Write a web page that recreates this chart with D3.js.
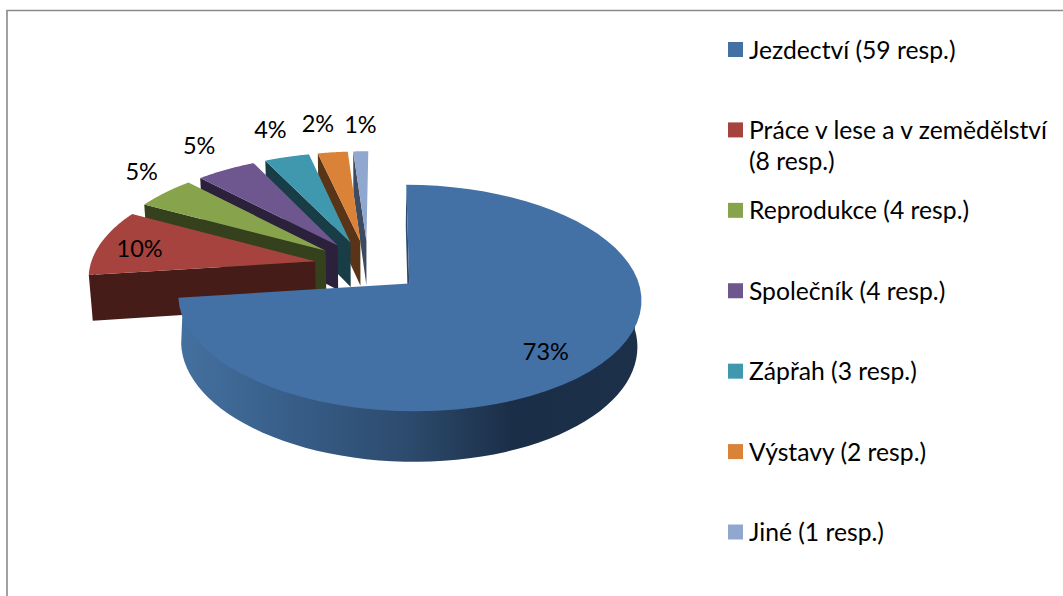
<!doctype html>
<html lang="cs">
<head>
  <meta charset="utf-8">
  <style>
    html, body { margin: 0; padding: 0; background: #fff; }
    svg { display: block; }
    text { font-family: Lato, "Open Sans", sans-serif; fill: #000; }
    .legend-label { font-size: 24.7px; }
    .pct-label { font-size: 23.5px; text-anchor: middle; }
  </style>
  <script src="https://d3js.org/d3.v7.min.js"></script>
</head>
<body>
  <script>
    const categories = ["Jezdectví", "Práce v lese a v zemědělství", "Reprodukce", "Společník", "Zápřah", "Výstavy", "Jiné"];
    const respondents = [59, 8, 4, 4, 3, 2, 1];
    const legendLines = [
      ["Jezdectví (59 resp.)"],
      ["Práce v lese a v zemědělství", "(8 resp.)"],
      ["Reprodukce (4 resp.)"],
      ["Společník (4 resp.)"],
      ["Zápřah (3 resp.)"],
      ["Výstavy (2 resp.)"],
      ["Jiné (1 resp.)"]
    ];
    const topColors = ["#4371a6", "#a6433f", "#87a34c", "#6e568f", "#3f98ae", "#da8238", "#90a7d0"];
    const wallColors = ["#2c4a6c", "#451c18", "#35401c", "#2c213b", "#193d47", "#5a3417", "#3d4a60"];

    // label placement, radius from slice centre and turn from its bisector
    const labelRadius = [0.78, 0.81, 1.27, 1.34, 1.37, 1.38, 1.35];
    const labelTurn = [4.7, -1.7, 5, 1.7, 0.9, -1.3, 0.3];

    const W = 1063, H = 596;
    const svg = d3.select("body").append("svg").attr("width", W).attr("height", H);

    // frame
    svg.append("path").attr("d", `M7,${H}V10.5H${W}`).attr("fill", "none").attr("stroke", "#8a8a8a").attr("stroke-width", 1.6);

    // perspective pie plane
    const cx = 368, cy = 266, rx = 225, ry = 107;
    const persp = 0.126, depth = 46, depthScale = 0.0145, explode = 0.24;
    const firstAngle = 0.5 * Math.PI / 180;

    function project(u, v, low) {
      const d = 1 + persp * v + (low ? depthScale : 0);
      return [cx + rx * u / d, cy + (-ry * v + (low ? depth : 0)) / d];
    }

    const pie = d3.pie().sort(null).startAngle(firstAngle).endAngle(firstAngle + 2 * Math.PI);
    const arcs = pie(respondents).map((a, i) => {
      const mid = (a.startAngle + a.endAngle) / 2;
      return {
        i, start: a.startAngle, end: a.endAngle, mid,
        ou: explode * Math.sin(mid), ov: explode * Math.cos(mid)
      };
    });

    const line = d3.line();
    const at = (s, r, ang, low) => project(s.ou + r * Math.sin(ang), s.ov + r * Math.cos(ang), low);
    const sweep = (a0, a1) => d3.range(0, 61).map(k => a0 + (a1 - a0) * k / 60);

    const defs = svg.append("defs");
    const grad = defs.append("linearGradient").attr("id", "mainWall")
      .attr("gradientUnits", "userSpaceOnUse")
      .attr("x1", 182).attr("x2", 641).attr("y1", 0).attr("y2", 0);
    grad.selectAll("stop")
      .data([[0, "#44709f"], [0.25, "#375d87"], [0.5, "#2c4a6c"], [0.72, "#1b2e47"], [1, "#1c3049"]])
      .enter().append("stop")
      .attr("offset", d => d[0]).attr("stop-color", d => d[1]);

    // back slices first, the big one last
    const order = arcs.slice().reverse();
    const slices = svg.selectAll("g.slice").data(order).enter().append("g").attr("class", "slice");

    // wall under the first radial edge
    slices.append("path")
      .attr("d", s => line([at(s, 1, s.start), at(s, 1, s.start, true), at(s, 0, s.start, true), at(s, 0, s.start)]) + "Z")
      .attr("fill", s => wallColors[s.i]);

    // outer wall, only where the rim faces the viewer, tucked a little under the top face
    slices.filter(s => Math.cos(s.start) < 0 || Math.cos(s.end) < 0).append("path")
      .attr("d", s => {
        const a0 = Math.max(s.start, Math.PI / 2), a1 = Math.min(s.end, 3 * Math.PI / 2);
        const pts = sweep(a0, a1);
        return line(pts.map(a => at(s, 0.98, a)).concat(pts.slice().reverse().map(a => at(s, 1, a, true)))) + "Z";
      })
      .attr("fill", s => s.i === 0 ? "url(#mainWall)" : wallColors[s.i]);

    // top face
    slices.append("path")
      .attr("d", s => line([at(s, 0, s.start)].concat(sweep(s.start, s.end).map(a => at(s, 1, a)))) + "Z")
      .attr("fill", s => topColors[s.i]);

    // percentages
    const total = d3.sum(respondents);
    const pct = d3.format(".0%");
    svg.selectAll("text.pct-label").data(arcs).enter().append("text")
      .attr("class", "pct-label")
      .attr("x", s => at(s, labelRadius[s.i], s.mid + labelTurn[s.i] * Math.PI / 180)[0])
      .attr("y", s => at(s, labelRadius[s.i], s.mid + labelTurn[s.i] * Math.PI / 180)[1] + 8.5)
      .text(s => pct(respondents[s.i] / total));

    // legend
    const legendY = d3.scalePoint().domain(categories).range([49.5, 532]);
    const legend = svg.selectAll("g.legend").data(categories).enter().append("g")
      .attr("class", "legend")
      .attr("transform", d => `translate(728,${legendY(d)})`);
    legend.append("rect")
      .attr("y", -7.5).attr("width", 15).attr("height", 15)
      .attr("fill", (d, i) => topColors[i]);
    legend.each(function (d, i) {
      d3.select(this).selectAll("text").data(legendLines[i]).enter().append("text")
        .attr("class", "legend-label")
        .attr("x", 21)
        .attr("y", (t, k) => 9 + k * 31)
        .text(t => t);
    });
  </script>
</body>
</html>
